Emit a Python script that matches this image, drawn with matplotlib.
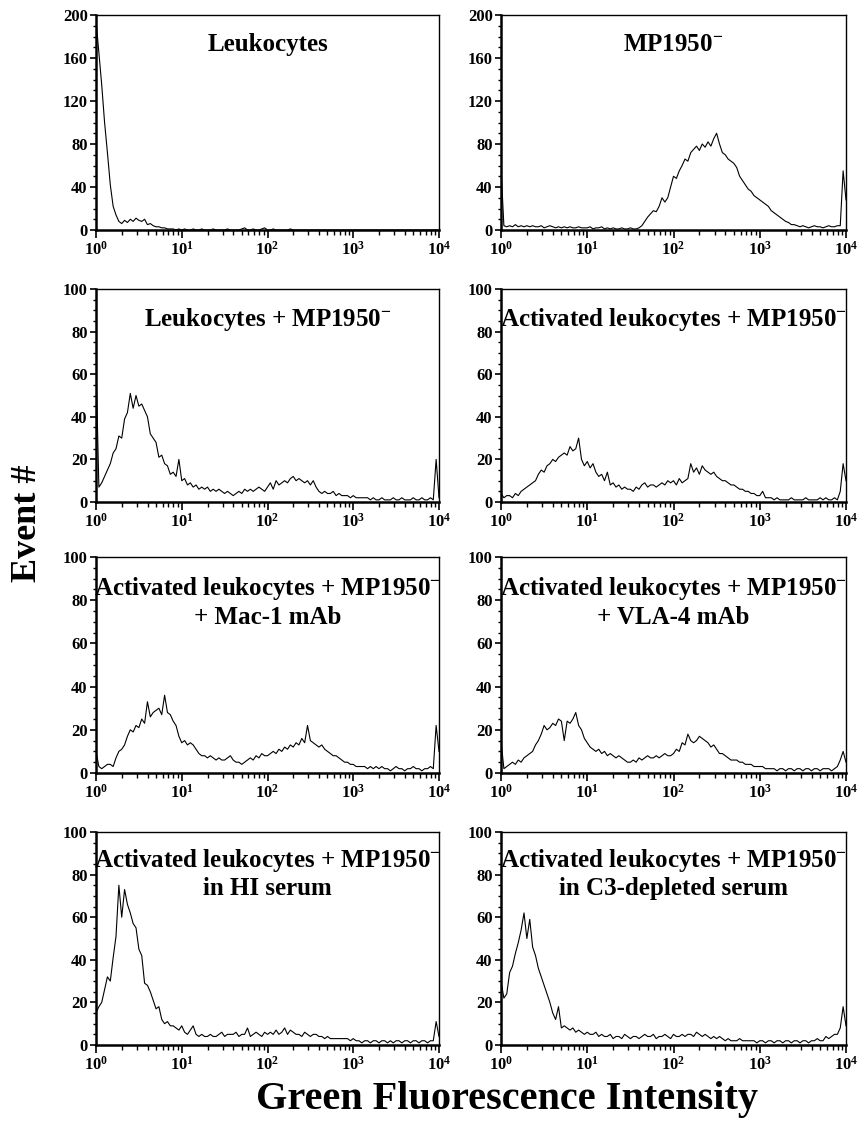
import matplotlib
matplotlib.use("Agg")
import matplotlib.pyplot as plt
from matplotlib.ticker import FixedLocator, LogLocator, NullFormatter

plt.rcParams['font.family'] = ['Liberation Serif', 'DejaVu Serif']
plt.rcParams['font.weight'] = 'bold'
plt.rcParams['mathtext.fontset'] = 'custom'
plt.rcParams['mathtext.rm'] = 'Liberation Serif:bold'
plt.rcParams['mathtext.bf'] = 'Liberation Serif:bold'
plt.rcParams['mathtext.default'] = 'bf'

# channel mantissas (30 log channels per decade)
mantissa = [1.000, 1.080, 1.166, 1.259, 1.359, 1.468, 1.585, 1.711, 1.848, 1.995,
            2.154, 2.326, 2.512, 2.712, 2.929, 3.162, 3.415, 3.687, 3.981, 4.299,
            4.642, 5.012, 5.412, 5.843, 6.310, 6.813, 7.356, 7.943, 8.577, 9.261]
fluor = [m * 10 ** d for d in range(4) for m in mantissa] + [10000.0]

leuko = [195, 165, 135, 100, 72, 42, 22, 14, 8, 6, 9, 7, 10, 8, 11, 9, 8, 10, 5, 6,
         4, 3, 3, 2, 2, 1, 1, 1, 0, 1, 0, 1, 0, 0, 1, 0, 0, 1, 0, 0,
         0, 1, 0, 0, 0, 0, 1, 0, 0, 0, 0, 1, 2, 0, 0, 1, 0, 0, 1, 2,
         0, 0, 1, 0, 0, 0, 0, 0, 1, 0, 0, 0, 0, 0, 0, 0, 0, 0, 0, 0,
         0, 0, 0, 0, 0, 0, 0, 0, 0, 0, 0, 0, 0, 0, 0, 0, 0, 0, 0, 0,
         0, 0, 0, 0, 0, 0, 0, 0, 0, 0, 0, 0, 0, 0, 0, 0, 0, 0, 0, 0, 0]

mp1950 = [58, 4, 3, 4, 3, 5, 3, 4, 3, 4, 3, 4, 3, 3, 4, 2, 3, 4, 3, 2,
          3, 2, 3, 2, 3, 2, 2, 3, 2, 2, 2, 3, 1, 2, 2, 3, 1, 2, 1, 2,
          1, 1, 2, 1, 1, 2, 1, 1, 2, 4, 8, 12, 15, 18, 17, 22, 30, 26, 30, 40,
          50, 48, 55, 60, 66, 64, 72, 75, 78, 74, 80, 77, 82, 78, 85, 90, 80, 72, 70, 66,
          64, 62, 58, 50, 46, 42, 38, 36, 32, 30, 28, 26, 24, 22, 18, 16, 14, 12, 10, 8,
          7, 5, 5, 4, 3, 4, 3, 2, 3, 4, 3, 3, 2, 3, 4, 3, 3, 4, 4, 55, 28]

leuko_mp = [65, 7, 9, 12, 15, 18, 23, 25, 31, 30, 39, 42, 51, 44, 50, 45, 46, 43, 40, 32,
            30, 28, 21, 22, 18, 17, 13, 14, 12, 20, 10, 11, 8, 9, 7, 8, 6, 7, 6, 7,
            5, 6, 5, 6, 5, 4, 5, 4, 3, 4, 5, 4, 6, 5, 6, 5, 6, 7, 6, 5,
            7, 9, 6, 10, 8, 9, 10, 9, 11, 12, 10, 11, 10, 9, 10, 8, 10, 7, 5, 4,
            5, 4, 4, 5, 3, 4, 3, 3, 3, 2, 3, 2, 2, 2, 2, 2, 1, 2, 1, 1,
            2, 1, 1, 1, 2, 1, 1, 2, 1, 1, 1, 2, 1, 1, 2, 1, 1, 2, 1, 20, 2]

act_mp = [4, 2, 3, 3, 2, 4, 3, 5, 6, 7, 8, 9, 10, 13, 15, 14, 17, 18, 20, 19,
          21, 22, 23, 22, 26, 24, 25, 30, 20, 17, 19, 16, 18, 14, 12, 13, 10, 14, 8, 9,
          7, 8, 6, 7, 6, 6, 5, 7, 6, 8, 9, 7, 8, 8, 7, 8, 9, 8, 10, 9,
          10, 8, 11, 9, 10, 11, 18, 14, 16, 13, 17, 15, 14, 13, 14, 12, 11, 10, 10, 9,
          8, 8, 7, 6, 6, 5, 5, 4, 4, 3, 3, 5, 2, 2, 2, 1, 2, 1, 1, 1,
          1, 2, 1, 1, 1, 1, 2, 1, 1, 1, 1, 2, 1, 2, 1, 1, 2, 1, 5, 18, 10]

act_mac1 = [10, 3, 2, 3, 4, 4, 3, 7, 10, 11, 13, 17, 20, 19, 22, 21, 25, 23, 33, 26,
            28, 29, 30, 27, 36, 28, 27, 24, 22, 17, 14, 15, 13, 14, 13, 11, 9, 8, 8, 7,
            8, 7, 6, 7, 6, 6, 7, 8, 6, 5, 5, 4, 5, 6, 7, 6, 8, 7, 9, 8,
            8, 9, 10, 9, 11, 10, 12, 11, 13, 12, 14, 13, 16, 14, 22, 15, 14, 13, 12, 13,
            11, 10, 9, 8, 8, 7, 6, 5, 5, 4, 4, 3, 3, 3, 3, 2, 3, 2, 3, 2,
            3, 2, 2, 1, 2, 3, 2, 2, 1, 2, 2, 3, 2, 2, 1, 2, 2, 3, 2, 22, 10]

act_vla4 = [15, 2, 3, 4, 5, 4, 6, 5, 7, 8, 9, 10, 13, 15, 18, 22, 20, 21, 23, 22,
            25, 24, 15, 24, 23, 25, 28, 22, 20, 16, 14, 12, 11, 10, 11, 9, 10, 8, 9, 8,
            7, 8, 7, 6, 5, 5, 6, 5, 7, 6, 7, 8, 7, 7, 8, 7, 8, 9, 8, 8,
            9, 11, 10, 14, 13, 18, 15, 14, 15, 17, 16, 15, 14, 12, 13, 11, 9, 9, 8, 7,
            6, 6, 6, 5, 5, 4, 4, 4, 3, 3, 3, 3, 2, 2, 2, 2, 1, 2, 2, 1,
            2, 2, 1, 2, 2, 1, 2, 2, 1, 2, 2, 1, 2, 2, 2, 1, 2, 3, 6, 10, 5]

act_hi = [15, 18, 20, 26, 32, 30, 41, 51, 75, 60, 73, 66, 62, 57, 55, 45, 42, 29, 28, 25,
          21, 17, 18, 12, 10, 11, 9, 9, 8, 7, 9, 6, 5, 7, 9, 5, 4, 5, 4, 4,
          5, 4, 4, 5, 6, 4, 5, 5, 5, 6, 4, 5, 5, 8, 4, 5, 6, 5, 4, 6,
          5, 6, 5, 7, 5, 6, 8, 5, 7, 6, 5, 5, 4, 6, 5, 4, 5, 5, 4, 4,
          3, 4, 3, 3, 3, 3, 3, 3, 3, 2, 3, 2, 2, 1, 2, 2, 1, 2, 2, 1,
          2, 2, 1, 2, 1, 2, 2, 1, 2, 2, 1, 2, 2, 1, 2, 2, 1, 2, 2, 11, 4]

act_c3 = [30, 22, 24, 34, 37, 43, 48, 54, 62, 50, 59, 46, 42, 36, 32, 28, 24, 20, 15, 12,
          18, 8, 9, 8, 7, 8, 6, 7, 6, 5, 6, 5, 5, 6, 4, 5, 4, 4, 5, 3,
          4, 4, 3, 5, 4, 3, 4, 4, 3, 4, 5, 4, 4, 5, 3, 4, 4, 5, 4, 3,
          5, 4, 4, 5, 4, 5, 5, 4, 6, 5, 4, 5, 4, 3, 4, 3, 4, 3, 2, 3,
          2, 2, 2, 3, 2, 2, 2, 2, 2, 1, 2, 2, 1, 2, 2, 1, 2, 2, 1, 2,
          2, 1, 2, 2, 1, 2, 2, 1, 2, 2, 3, 2, 2, 4, 3, 4, 5, 5, 8, 18, 9]

series = [leuko, mp1950, leuko_mp, act_mp, act_mac1, act_vla4, act_hi, act_c3]
titles = ["Leukocytes",
          "MP1950$^{-}$",
          "Leukocytes + MP1950$^{-}$",
          "Activated leukocytes + MP1950$^{-}$",
          "Activated leukocytes + MP1950$^{-}$\n+ Mac-1 mAb",
          "Activated leukocytes + MP1950$^{-}$\n+ VLA-4 mAb",
          "Activated leukocytes + MP1950$^{-}$\nin HI serum",
          "Activated leukocytes + MP1950$^{-}$\nin C3-depleted serum"]
ymax = [200, 200, 100, 100, 100, 100, 100, 100]

W, H = 857, 1128
fig = plt.figure(figsize=(W / 100, H / 100), dpi=100)

col_x = [(96, 439), (501, 846)]
row_y = [(15, 230), (289, 502), (557, 773), (832, 1045)]
title_y = [0.916, 0.92, 0.915, 0.93]

for k, (y, title, top) in enumerate(zip(series, titles, ymax)):
    r, c = divmod(k, 2)
    x0, x1 = col_x[c]
    t, b = row_y[r]
    ax = fig.add_axes([x0 / W, 1 - b / H, (x1 - x0) / W, (b - t) / H])
    ax.plot(fluor, y, color='black', lw=0.8)
    ax.set_xscale('log')
    ax.set_xlim(1, 10000)
    ax.set_ylim(0, top)
    ax.xaxis.set_major_locator(FixedLocator([1, 10, 100, 1000, 10000]))
    ax.set_xticklabels(['10$^0$', '10$^1$', '10$^2$', '10$^3$', '10$^4$'])
    ax.xaxis.set_minor_locator(LogLocator(base=10, subs=range(2, 10)))
    ax.xaxis.set_minor_formatter(NullFormatter())
    step = top // 5
    ax.yaxis.set_major_locator(FixedLocator(range(0, top + 1, step)))
    ax.yaxis.set_minor_locator(FixedLocator(range(0, top + 1, step // 4)))
    ax.tick_params(axis='x', which='major', direction='out', length=6, width=1.2,
                   labelsize=12, pad=2)
    ax.tick_params(axis='x', which='minor', direction='out', length=3.5, width=1)
    ax.tick_params(axis='y', which='major', direction='out', length=4, width=1.2,
                   labelsize=12, pad=2)
    ax.tick_params(axis='y', which='minor', direction='out', length=2, width=1)
    for lab in ax.get_yticklabels():
        lab.set_fontweight('bold')
    ax.spines['left'].set_linewidth(1.8)
    ax.spines['bottom'].set_linewidth(1.8)
    ax.spines['top'].set_linewidth(1.0)
    ax.spines['right'].set_linewidth(1.0)
    ax.text(0.5, title_y[r], title, transform=ax.transAxes, ha='center', va='top',
            fontsize=18, fontweight='bold', linespacing=1.18)

fig.text(0.592, 0.025, "Green Fluorescence Intensity", ha='center', va='center',
         fontsize=29, fontweight='bold')
fig.text(0.032, 0.536, "Event #", ha='center', va='center', rotation=90,
         fontsize=26, fontweight='bold')

fig.savefig("out.png", dpi=100)
